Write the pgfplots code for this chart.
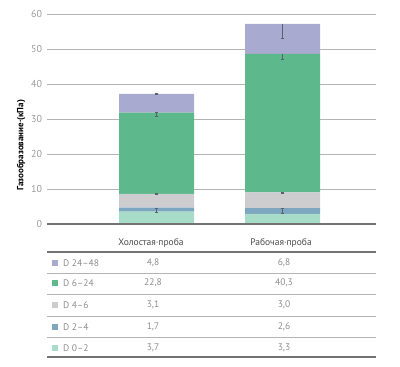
\documentclass[border=0pt]{standalone}
\usepackage{fontspec}
\setmainfont{PT Sans}
\usepackage{pgfplots}
\pgfplotsset{compat=1.18}
\definecolor{cA}{HTML}{A9AACF}
\definecolor{cB}{HTML}{5DB98C}
\definecolor{cC}{HTML}{CDCDCF}
\definecolor{cD}{HTML}{7DA7C0}
\definecolor{cE}{HTML}{A7DCC8}
\definecolor{errc}{HTML}{5A6070}
\definecolor{gridc}{HTML}{B4B4B4}
\definecolor{tickc}{HTML}{9A9A9A}
\definecolor{txtc}{HTML}{8C8C8C}
\definecolor{hdrc}{HTML}{4A4A4A}
\begin{document}
\begin{tikzpicture}[x=1pt,y=1pt]
\useasboundingbox (0,0) rectangle (400,-367);
\pgfplotsset{base/.style={
  scale only axis, width=329pt, height=210pt,
  xmin=0, xmax=329, ymin=0, ymax=60,
  at={(47pt,-224pt)}, anchor=south west, clip=false}}
\begin{axis}[base,
  ybar stacked, bar width=75pt,
  axis line style={draw=none},
  xtick=\empty,
  ytick={0,10,20,30,40,50,60},
  ytick style={draw=none},
  ymajorgrids,
  major grid style={gridc, line width=0.8pt},
  yticklabel style={text=tickc, font=\fontsize{10}{12}\selectfont, xshift=-1.5pt},
  /pgf/number format/assume math mode=true,
]
\addplot[fill=cE, draw=none] coordinates {(109.5,3.57) (235.5,2.86)};
\addplot[fill=cD, draw=none] coordinates {(109.5,1.14) (235.5,1.71)};
\addplot[fill=cC, draw=none] coordinates {(109.5,3.9) (235.5,4.46)};
\addplot[fill=cB, draw=none] coordinates {(109.5,23.2) (235.5,39.6)};
\addplot[fill=cA, draw=none] coordinates {(109.5,5.4) (235.5,8.57)};
\end{axis}
\begin{axis}[base, hide axis]
\draw[color=black!55, line width=1.1pt] (axis cs:0,0) -- (axis cs:329,0);
\addplot[draw=none, mark=none,
  error bars/.cd, y dir=both, y explicit,
  error bar style={draw=errc, line width=0.5pt},
  error mark=-,
  error mark options={rotate=90, mark size=1.8pt, line width=0.5pt, draw=errc}]
  coordinates {
  (109.5,37.1) +- (0,0.15)
  (109.5,31.3) +- (0,0.5)
  (109.5,8.6) +- (0,0.15)
  (109.5,4.0) +- (0,0.55)
  (235.5,9.03) +- (0,0.15)
  (235.5,3.8) +- (0,0.8)
  };
\addplot[draw=none, mark=none,
  error bars/.cd, y dir=minus, y explicit,
  error bar style={draw=errc, line width=0.5pt},
  error mark=-,
  error mark options={rotate=90, mark size=1.8pt, line width=0.5pt, draw=errc}]
  coordinates {
  (235.5,57.2) -= (0,4.2)
  (235.5,48.6) -= (0,1.6)
  };
\end{axis}
% y label
\node[rotate=90, font=\fontsize{9}{10}\bfseries\selectfont, text=black] at (21,-145) {Газообразование·(кПа)};
% table
\node[font=\fontsize{9.5}{11}\selectfont, text=hdrc] at (151,-243) {Холостая·проба};
\node[font=\fontsize{9.5}{11}\selectfont, text=hdrc] at (281,-243) {Рабочая·проба};
\draw[color=black!55, line width=1.1pt] (47,-252) -- (376,-252);
\foreach \yy in {273,294,316,337} {\draw[color=gridc, line width=0.7pt] (47,-\yy) -- (376,-\yy);}
\draw[color=black!55, line width=1.1pt] (47,-357) -- (376,-357);
\foreach \yy/\cc/\lab/\va/\vb in {263/cA/D 24–48/{4,8}/{6,8}, 283/cB/D 6–24/{22,8}/{40,3}, 305/cC/D 4–6/{3,1}/{3,0}, 327/cD/D 2–4/{1,7}/{2,6}, 348/cE/D 0–2/{3,7}/{3,3}} {
  \fill[\cc] (52,-\yy-3) rectangle (58,-\yy+3);
  \node[anchor=west, font=\fontsize{9.5}{11}\selectfont, text=txtc, inner sep=0pt] at (63,-\yy) {\lab};
  \node[font=\fontsize{9.5}{11}\selectfont, text=txtc, inner sep=0pt] at (153,-\yy) {\va};
  \node[font=\fontsize{9.5}{11}\selectfont, text=txtc, inner sep=0pt] at (284,-\yy) {\vb};
}
\end{tikzpicture}
\end{document}
